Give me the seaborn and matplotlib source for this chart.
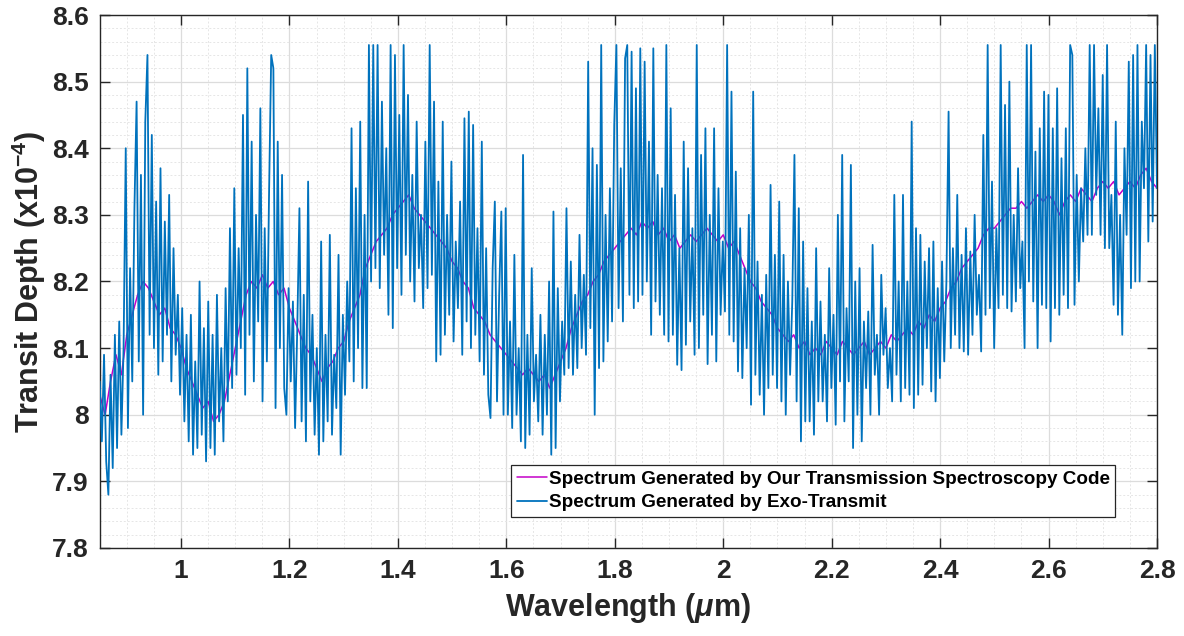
import numpy as np
import pandas as pd
import matplotlib
matplotlib.use("Agg")
import matplotlib.pyplot as plt
from matplotlib.ticker import MultipleLocator
import seaborn as sns

# ---------------- data ----------------
wl_start, wl_end = 0.85, 2.80

# Spectrum generated by Exo-Transmit (blue), sampled every ~0.004 um
exo_depth = [
    8.05, 7.96, 8.09, 7.93, 7.88, 8.06, 7.92, 8.12, 7.95, 8.14, 7.97, 8.10, 8.40, 7.98, 8.22, 8.05, 8.31, 8.47, 8.08, 8.36, 8.00, 8.44, 8.54, 8.12, 8.42,
    8.10, 8.32, 8.06, 8.37, 8.08, 8.29, 8.12, 8.33, 8.05, 8.25, 8.09, 8.18, 8.03, 8.16, 7.99, 8.12, 7.96, 8.15, 7.94, 8.08, 7.95, 8.20, 7.97, 8.13, 7.93,
    8.17, 7.95, 8.12, 7.94, 8.18, 7.99, 8.10, 7.96, 8.19, 8.02, 8.28, 8.04, 8.34, 8.06, 8.25, 8.10, 8.45, 8.03, 8.52, 8.12, 8.41, 8.05, 8.30, 8.14, 8.46,
    8.02, 8.28, 8.08, 8.33, 8.54, 8.52, 8.01, 8.41, 8.10, 8.36, 8.04, 8.00, 8.19, 8.05, 8.17, 7.98, 8.13, 8.31, 7.99, 8.18, 7.96, 8.35, 8.02, 8.15, 7.97,
    8.10, 7.94, 8.26, 7.96, 8.12, 7.99, 8.27, 7.97, 8.09, 8.01, 8.24, 7.94, 8.15, 8.03, 8.20, 8.08, 8.43, 8.05, 8.34, 8.10, 8.44, 8.04, 8.30, 8.04, 8.555,
    8.20, 8.555, 8.22, 8.555, 8.19, 8.47, 8.24, 8.40, 8.15, 8.555, 8.13, 8.54, 8.22, 8.45, 8.18, 8.555, 8.24, 8.48, 8.20, 8.36, 8.17, 8.44, 8.22, 8.30, 8.16,
    8.41, 8.19, 8.555, 8.21, 8.47, 8.08, 8.35, 8.09, 8.44, 8.12, 8.30, 8.15, 8.38, 8.11, 8.26, 8.16, 8.32, 8.09, 8.445, 8.14, 8.455, 8.10, 8.435, 8.12, 8.28,
    8.08, 8.41, 8.06, 8.25, 8.03, 7.995, 8.22, 8.32, 8.02, 8.18, 8.305, 8.00, 8.31, 8.00, 8.14, 7.98, 8.24, 8.00, 8.10, 7.96, 8.39, 7.95, 8.12, 7.97, 8.22,
    8.02, 8.09, 7.99, 8.15, 7.97, 8.12, 8.00, 8.20, 7.94, 8.305, 7.95, 8.19, 8.02, 8.14, 8.06, 8.31, 8.07, 8.23, 8.06, 8.18, 8.07, 8.27, 8.10, 8.21, 8.09,
    8.53, 8.13, 8.40, 8.00, 8.375, 8.07, 8.555, 8.08, 8.30, 8.11, 8.34, 8.14, 8.435, 8.555, 8.16, 8.37, 8.14, 8.535, 8.555, 8.18, 8.545, 8.16, 8.49, 8.17, 8.55,
    8.18, 8.53, 8.20, 8.41, 8.12, 8.55, 8.17, 8.36, 8.15, 8.34, 8.12, 8.555, 8.11, 8.46, 8.12, 8.33, 8.075, 8.25, 8.067, 8.41, 8.105, 8.37, 8.14, 8.28, 8.09,
    8.555, 8.10, 8.39, 8.15, 8.43, 8.076, 8.30, 8.12, 8.43, 8.08, 8.34, 8.15, 8.26, 8.155, 8.555, 8.12, 8.485, 8.11, 8.365, 8.065, 8.28, 8.055, 8.22, 8.10, 8.30,
    8.015, 8.485, 8.06, 8.23, 8.03, 8.18, 8.00, 8.21, 8.04, 8.345, 8.06, 8.24, 8.04, 8.32, 8.02, 8.24, 8.00, 8.20, 8.06, 8.17, 8.39, 8.02, 8.31, 7.96, 8.26,
    7.99, 8.19, 7.99, 8.14, 7.97, 8.25, 8.02, 8.17, 8.02, 8.12, 7.99, 8.22, 8.04, 8.15, 7.985, 8.30, 8.05, 8.39, 7.99, 8.16, 8.05, 8.375, 7.95, 8.20, 8.00,
    8.22, 7.96, 8.14, 8.04, 8.155, 8.00, 8.255, 8.06, 8.12, 8.00, 8.21, 8.09, 8.16, 8.04, 8.10, 8.02, 8.33, 8.06, 8.20, 8.02, 8.33, 8.04, 8.20, 8.03, 8.44,
    8.01, 8.28, 8.03, 8.27, 8.045, 8.23, 8.10, 8.25, 8.035, 8.26, 8.02, 8.19, 8.055, 8.23, 8.08, 8.20, 8.455, 8.10, 8.25, 8.12, 8.33, 8.10, 8.24, 8.095, 8.28,
    8.09, 8.245, 8.12, 8.30, 8.15, 8.21, 8.095, 8.42, 8.15, 8.555, 8.16, 8.35, 8.10, 8.28, 8.16, 8.555, 8.18, 8.465, 8.16, 8.50, 8.155, 8.30, 8.17, 8.37, 8.19,
    8.26, 8.10, 8.555, 8.20, 8.555, 8.17, 8.395, 8.10, 8.43, 8.165, 8.485, 8.16, 8.48, 8.11, 8.43, 8.16, 8.49, 8.15, 8.385, 8.18, 8.43, 8.16, 8.555, 8.54, 8.165,
    8.36, 8.20, 8.34, 8.26, 8.40, 8.27, 8.555, 8.27, 8.555, 8.33, 8.46, 8.27, 8.51, 8.25, 8.555, 8.25, 8.33, 8.165, 8.44, 8.15, 8.30, 8.12, 8.40, 8.27, 8.53,
    8.19, 8.54, 8.20, 8.555, 8.20, 8.44, 8.34, 8.555, 8.26, 8.54, 8.29, 8.555, 8.34,
]

# Spectrum generated by our transmission spectroscopy code (magenta), every 0.01 um
our_depth = [
    8.03, 8.00, 8.05, 8.09, 8.06, 8.12, 8.15, 8.18, 8.20, 8.19,
    8.17, 8.15, 8.16, 8.13, 8.12, 8.10, 8.07, 8.05, 8.03, 8.01,
    8.02, 7.99, 8.00, 8.02, 8.06, 8.10, 8.14, 8.18, 8.20, 8.19,
    8.21, 8.19, 8.20, 8.18, 8.19, 8.16, 8.14, 8.12, 8.10, 8.09,
    8.07, 8.05, 8.07, 8.08, 8.10, 8.11, 8.14, 8.16, 8.18, 8.22,
    8.24, 8.26, 8.27, 8.28, 8.30, 8.31, 8.32, 8.33, 8.31, 8.30,
    8.29, 8.28, 8.27, 8.26, 8.25, 8.23, 8.22, 8.20, 8.19, 8.16,
    8.15, 8.14, 8.12, 8.11, 8.10, 8.09, 8.08, 8.07, 8.06, 8.07,
    8.06, 8.05, 8.06, 8.04, 8.06, 8.08, 8.10, 8.13, 8.15, 8.17,
    8.18, 8.20, 8.21, 8.23, 8.24, 8.25, 8.26, 8.27, 8.28, 8.27,
    8.29, 8.28, 8.29, 8.27, 8.28, 8.26, 8.27, 8.25, 8.26, 8.27,
    8.26, 8.27, 8.28, 8.27, 8.26, 8.27, 8.25, 8.26, 8.24, 8.22,
    8.20, 8.19, 8.17, 8.16, 8.15, 8.13, 8.12, 8.11, 8.12, 8.10,
    8.11, 8.09, 8.10, 8.09, 8.11, 8.10, 8.09, 8.11, 8.10, 8.09,
    8.10, 8.11, 8.09, 8.10, 8.11, 8.10, 8.12, 8.11, 8.12, 8.13,
    8.12, 8.14, 8.13, 8.15, 8.14, 8.16, 8.17, 8.19, 8.20, 8.22,
    8.23, 8.24, 8.25, 8.27, 8.28, 8.28, 8.29, 8.30, 8.31, 8.31,
    8.32, 8.31, 8.32, 8.33, 8.32, 8.33, 8.32, 8.30, 8.32, 8.33,
    8.32, 8.34, 8.33, 8.32, 8.34, 8.35, 8.34, 8.35, 8.33, 8.34,
    8.35, 8.34, 8.36, 8.37, 8.35, 8.34,
]

x_ticks = [1, 1.2, 1.4, 1.6, 1.8, 2, 2.2, 2.4, 2.6, 2.8]
x_tick_labels = ["1", "1.2", "1.4", "1.6", "1.8", "2", "2.2", "2.4", "2.6", "2.8"]
y_ticks = [7.8, 7.9, 8.0, 8.1, 8.2, 8.3, 8.4, 8.5, 8.6]
y_tick_labels = ["7.8", "7.9", "8", "8.1", "8.2", "8.3", "8.4", "8.5", "8.6"]

label_ours = "Spectrum Generated by Our Transmission Spectroscopy Code"
label_exo = "Spectrum Generated by Exo-Transmit"

# ---------------- styling ----------------
sns.set_theme(style="whitegrid")
plt.rcParams["font.family"] = ["Liberation Sans", "DejaVu Sans"]
plt.rcParams["font.weight"] = "bold"
plt.rcParams["mathtext.fontset"] = "custom"
plt.rcParams["mathtext.rm"] = "Liberation Sans:bold"
plt.rcParams["mathtext.bf"] = "Liberation Sans:bold"
plt.rcParams["mathtext.it"] = "Liberation Sans:bold:italic"

df_exo = pd.DataFrame({
    "wl": np.linspace(wl_start, wl_end, len(exo_depth)),
    "depth": exo_depth,
})
df_ours = pd.DataFrame({
    "wl": np.linspace(wl_start, wl_end, len(our_depth)),
    "depth": our_depth,
})

fig = plt.figure(figsize=(11.84, 6.36), dpi=100)
ax = fig.add_axes([0.0842, 0.1384, 0.8930, 0.8380])
ax.set_facecolor("white")

sns.lineplot(data=df_ours, x="wl", y="depth", ax=ax, color="#C400C8",
             linewidth=1.1, label=label_ours, estimator=None, zorder=2)
sns.lineplot(data=df_exo, x="wl", y="depth", ax=ax, color="#0072BD",
             linewidth=1.3, label=label_exo, estimator=None, zorder=3)

ax.set_xlim(wl_start, wl_end)
ax.set_ylim(7.8, 8.6)
ax.set_xticks(x_ticks)
ax.set_xticklabels(x_tick_labels)
ax.set_yticks(y_ticks)
ax.set_yticklabels(y_tick_labels)
ax.xaxis.set_minor_locator(MultipleLocator(0.05))
ax.yaxis.set_minor_locator(MultipleLocator(0.02))

ax.grid(which="major", color="#dcdcdc", linestyle="-", linewidth=0.9, zorder=0)
ax.grid(which="minor", color="#e6e6e6", linestyle=(0, (2, 2)), linewidth=0.7, zorder=0)
ax.set_axisbelow(True)

for side in ["left", "right", "top", "bottom"]:
    ax.spines[side].set_visible(True)
    ax.spines[side].set_color("#262626")
    ax.spines[side].set_linewidth(1.0)

ax.tick_params(axis="both", which="major", direction="in", length=7, width=1.0,
               color="#262626", labelsize=19, labelcolor="#262626",
               top=True, right=True, bottom=True, left=True, pad=8)
ax.tick_params(axis="both", which="minor", length=0)
for lab in ax.get_xticklabels() + ax.get_yticklabels():
    lab.set_fontweight("bold")

ax.set_xlabel(r"Wavelength ($\mu$m)", fontsize=22, fontweight="bold",
              color="#262626", labelpad=6)
ax.set_ylabel(r"Transit Depth (x10$^{-4}$)", fontsize=22, fontweight="bold",
              color="#262626", labelpad=3)

leg = ax.legend(loc="lower right", bbox_to_anchor=(0.9606, 0.058),
                fontsize=13.6, frameon=True, fancybox=False, framealpha=1,
                edgecolor="#262626", handlelength=1.6, handletextpad=0.1,
                borderpad=0.3, labelspacing=0.35, borderaxespad=0)
leg.get_frame().set_linewidth(0.9)
for t in leg.get_texts():
    t.set_fontweight("bold")
    t.set_color("black")

fig.savefig("out.png", dpi=100, facecolor="white")
